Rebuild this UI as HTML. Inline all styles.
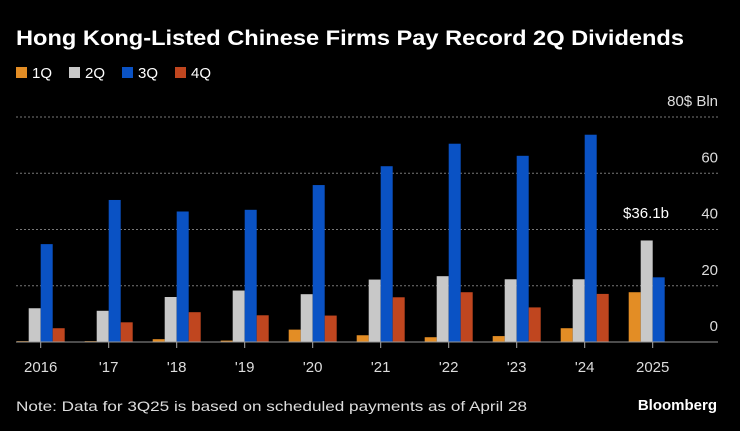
<!DOCTYPE html>
<html><head><meta charset="utf-8"><style>
body{margin:0;background:#000;width:740px;height:431px;overflow:hidden;font-family:"Liberation Sans",sans-serif;color:#fff}
svg{position:absolute;left:0;top:0}
</style></head><body>
<svg width="740" height="431">
<text x="16" y="45" font-size="21" font-weight="bold" fill="#fff" textLength="668" lengthAdjust="spacingAndGlyphs">Hong Kong-Listed Chinese Firms Pay Record 2Q Dividends</text>
<g id="legend"></g>
<g id="grid"></g><g id="bars"></g><g id="axis"></g>
<text x="646" y="218" font-size="15" fill="#fff" text-anchor="middle">$36.1b</text>
<text x="16" y="411" font-size="14" fill="#ddd" textLength="511" lengthAdjust="spacingAndGlyphs">Note: Data for 3Q25 is based on scheduled payments as of April 28</text>
<text x="717" y="410" font-size="15" font-weight="bold" fill="#fff" text-anchor="end">Bloomberg</text>
</svg>
<script>
const categories=["2016","'17","'18","'19","'20","'21","'22","'23","'24","2025"];
const seriesNames=["1Q","2Q","3Q","4Q"];
const q1=[0.3,0.3,1.0,0.5,4.4,2.4,1.7,2.1,4.9,17.7];
const q2=[12.0,11.1,16.0,18.3,17.0,22.2,23.4,22.3,22.3,36.1];
const q3=[34.8,50.5,46.4,47.0,55.8,62.5,70.5,66.2,73.7,23.0];
const q4=[4.9,7.0,10.6,9.5,9.4,15.9,17.7,12.3,17.1,null];
const yTicks=[0,20,40,60,80];
const colors=["#e38d25","#c8c8c8","#0a52c4","#c0461f"];
const NS="http://www.w3.org/2000/svg";
const y=v=>342-v*(225/80);
const x=i=>40.7+i*68;
function mk(tag,attrs,parent){const e=document.createElementNS(NS,tag);for(const k in attrs)e.setAttribute(k,attrs[k]);parent.appendChild(e);return e;}
const grid=document.getElementById('grid'),bars=document.getElementById('bars'),axis=document.getElementById('axis'),legend=document.getElementById('legend');
seriesNames.forEach((n,i)=>{const lx=16+i*53;
 const r=mk('rect',{x:lx,y:67,width:11,height:11,fill:colors[i]},legend);
 
 
 const t=mk('text',{x:lx+16,y:78,'font-size':15,fill:'#fff'},legend);t.textContent=n;
 
 
});
yTicks.forEach(v=>{
 if(v>0){const l=mk('line',{x1:16,x2:718,y1:y(v),y2:y(v),stroke:'#777','stroke-dasharray':'2,2','stroke-width':1},grid);
 
 }
 const t=mk('text',{x:718,y:y(v)-11,'font-size':15,fill:'#ddd','text-anchor':'end'},axis);
 t.textContent=v===80?'80$ Bln':String(v);
 
 
});
const series=[q1,q2,q3,q4];
categories.forEach((c,i)=>{
 series.forEach((s,j)=>{const v=s[i];if(v==null)return;
  const r=mk('rect',{x:x(i)-24+j*12,y:y(v),width:12,height:342-y(v),fill:colors[j]},bars);
  
  
 });
 const tk=mk('line',{x1:x(i),x2:x(i),y1:342,y2:348,stroke:'#aaa'},axis);
 
 
 const t=mk('text',{x:x(i),y:372,'font-size':15,fill:'#ddd','text-anchor':'middle'},axis);t.textContent=c;
 
 
});
const base=mk('line',{x1:16,x2:718,y1:342,y2:342,stroke:'#999','stroke-width':1},axis);


</script>
</body></html>
